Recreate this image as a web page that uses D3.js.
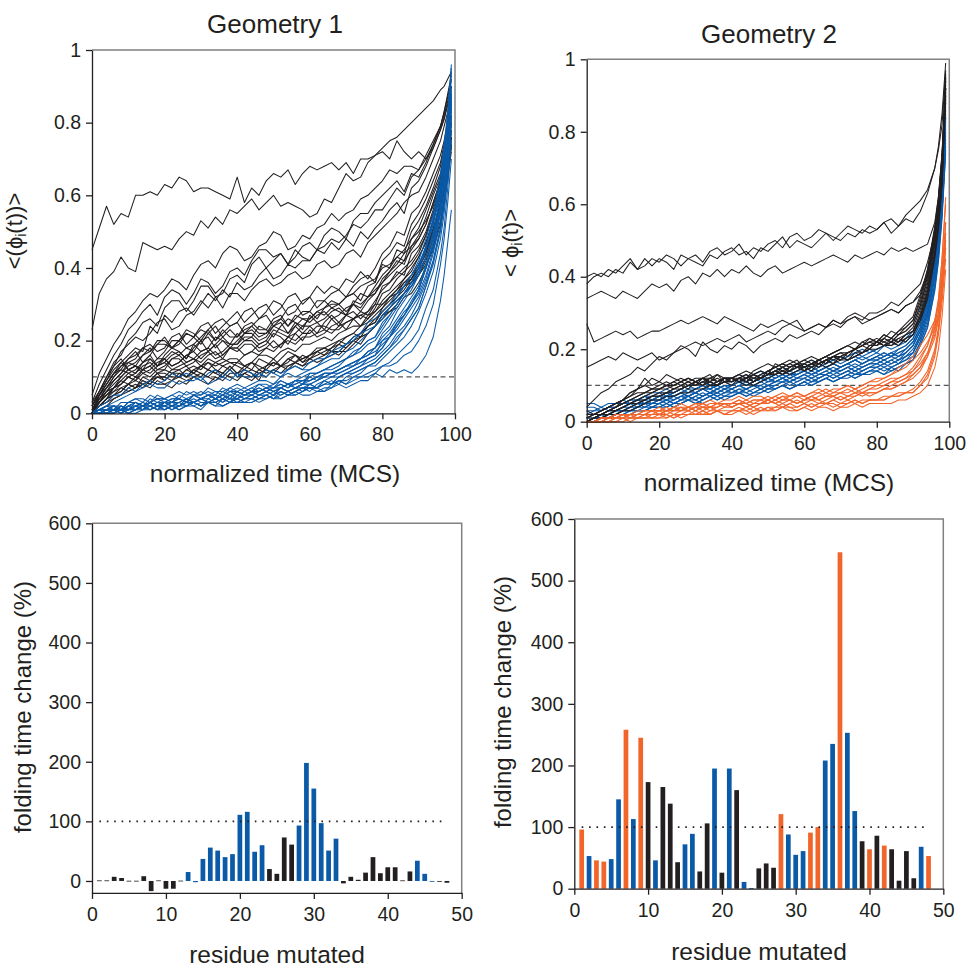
<!DOCTYPE html>
<html lang="en">
<head>
<meta charset="utf-8">
<title>Geometry 1 / Geometry 2</title>
<script src="https://cdn.jsdelivr.net/npm/d3@7"></script>
<style>
  body { margin: 0; background: #fff; }
  svg { display: block; }
  text { font-family: "Liberation Sans", Arial, Helvetica, sans-serif; fill: #231f20; }
  .axis path, .axis line { stroke: #231f20; stroke-width: 1.3; }
  .axis text { font-size: 19.5px; }
  .frame { stroke: #808080; stroke-width: 1.5; fill: none; }
</style>
</head>
<body>
<script>
// shared time grid (normalized time, MCS)
var times = [0,2,4,6,8,10,12,14,16,18,20,22,24,26,28,30,32,34,36,38,40,42,44,46,48,50,52,54,56,58,
             60,62,64,66,68,70,72,74,76,78,80,82,84,86,88,90,92,94,96,97,98,99];

// <phi_i(t)> x100, Geometry 1, black residues
var g1Black = [
  [45,51,57,52,55,54,60,60,61,60, 63,62,65,64,61,62,62,61,60,59, 65,58,62,60,64,66,65,67,63,66, 68,67,68,69,67,69,66,70,70,71, 73,75,76,78,80,82, 84,86,89,90,92,94],
  [23,33,37,39,43,40,39,47,46,45, 46,45,48,50,49,53,51,54,52,56, 55,57,59,56,58,60,57,58,57,56, 54,55,59,58,62,66,64,65,69,71, 72,70,75,72,70,72, 70,73,78,81,85,90],
  [5,11,15,19,22,26,28,31,33,32, 34,37,36,34,38,41,42,40,44,46, 45,42,43,46,47,50,49,45,46,49, 48,51,52,55,53,55,56,59,60,62, 64,67,66,68,68,67, 70,74,79,83,87,92],
  [3,8,12,16,19,23,25,28,30,27, 32,34,33,30,33,37,36,33,35,39, 40,38,42,45,45,43,44,41,43,46, 47,45,49,51,50,48,53,55,55,58, 60,62,64,61,66,65, 69,74,79,83,88,93],
  [2,6,10,14,16,20,22,25,26,24, 29,31,31,28,31,35,35,32,33,37, 38,36,41,43,40,42,44,41,45,43, 42,45,46,48,47,49,52,51,53,56, 56,59,62,60,65,67, 71,75,79,82,86,90],
  [0,5,8,11,14,16,18,17,24,22, 27,25,28,29,27,30,33,31,34,32, 36,34,35,38,40,37,38,41,40,42, 42,45,44,47,45,48,46,50,48,51, 53,56,58,55,62,64, 68,73,78,81,85,88],
  [2,6,9,13,17,19,21,20,22,25, 26,23,24,27,28,31,29,32,29,33, 33,31,34,36,37,35,36,38,39,37, 38,41,42,40,41,44,45,43,47,49, 51,53,55,58,60,61, 65,70,75,79,83,87],
  [0,4,7,10,13,14,15,18,19,17, 18,21,22,19,21,24,25,22,24,26, 28,25,27,29,30,27,29,32,33,30, 32,35,33,35,34,37,36,39,37,40, 44,46,50,49,55,57, 61,66,71,75,80,85],
  [1,5,8,11,12,15,17,14,16,19, 21,18,20,23,22,20,23,25,26,24, 25,28,29,26,28,31,30,27,28,31, 32,29,31,33,34,32,35,37,38,36, 42,44,47,46,52,55, 59,64,69,74,79,84],
  [0,3,6,9,11,13,14,16,18,15, 17,20,20,18,19,21,23,20,22,24, 25,22,24,26,27,24,26,29,30,27, 28,31,31,29,30,32,33,31,35,36, 41,40,45,44,50,53, 57,62,68,73,78,83],
  [3,6,10,13,15,12,13,16,17,20, 20,18,19,22,21,19,22,24,21,23, 21,24,25,23,23,26,27,24,26,28, 28,26,29,31,30,28,30,33,32,35, 38,40,43,42,48,51, 56,61,66,71,77,82],
  [0,3,5,7,9,11,12,14,15,13, 14,16,17,15,19,17,18,21,20,18, 20,22,23,21,22,24,25,22,24,26, 25,27,28,26,27,29,30,28,31,33, 37,39,42,41,46,49, 54,60,65,70,76,81],
  [2,5,7,9,11,14,13,12,15,13, 16,18,17,15,18,20,17,19,21,19, 22,20,21,24,23,21,24,26,25,23, 27,25,26,28,29,27,31,30,32,34, 36,38,40,42,45,48, 52,58,64,70,75,80],
  [0,2,4,7,10,12,13,11,12,14, 15,13,14,16,17,15,17,19,16,18, 18,20,20,18,19,22,21,19,22,24, 24,22,25,27,25,27,28,26,28,31, 34,36,39,38,44,46, 50,56,63,68,74,79],
  [1,4,6,7,8,10,11,13,14,12, 13,15,16,14,15,17,18,16,17,19, 19,21,21,19,20,23,22,21,24,22, 24,25,23,26,24,27,26,28,27,30, 35,36,38,40,42,45, 49,55,62,67,73,78],
  [0,5,9,12,14,12,11,14,16,13, 15,17,16,18,17,20,21,18,20,19, 19,22,22,20,21,24,23,22,25,24, 26,28,27,29,28,27,30,29,32,33, 36,39,41,44,46,48, 52,58,64,69,75,80],
  [0,3,5,6,8,10,9,12,13,11, 12,15,15,13,14,16,17,15,16,18, 18,16,17,19,20,18,19,21,22,20, 23,21,22,24,25,23,26,27,26,29, 33,34,37,39,41,44, 49,55,61,66,72,77],
  [1,4,7,10,12,11,10,12,13,15, 15,13,14,16,15,14,16,17,15,18, 17,19,19,17,18,20,18,21,20,22, 22,24,24,23,23,25,26,24,27,28, 31,33,35,37,40,43, 47,53,60,65,71,76],
  [0,2,4,6,7,8,9,8,9,11, 11,10,10,12,13,12,14,13,14,15, 15,13,14,16,16,15,17,18,17,19, 19,20,21,20,22,23,24,24,26,28, 30,32,34,36,38,41, 45,51,58,64,70,76],
  [0,3,5,7,9,8,7,10,9,11, 9,11,12,10,11,13,12,11,13,12, 14,13,12,15,14,13,15,17,16,15, 16,18,18,17,19,21,22,21,24,26, 28,30,32,34,37,40, 44,50,57,63,69,75],
  [0,2,3,5,6,8,7,9,8,10, 10,9,11,10,12,11,10,12,11,13, 11,12,14,13,12,14,13,15,16,14, 15,17,16,18,19,18,20,21,22,24, 27,29,31,33,36,39, 43,49,56,62,68,74],
  [0,3,6,7,8,10,9,11,10,12, 12,11,11,10,12,13,14,12,11,13, 11,13,14,12,13,15,13,14,16,14, 16,17,18,17,17,19,20,22,24,25, 28,30,32,35,37,41, 45,50,58,64,70,76],
  [1,2,4,5,6,8,10,9,8,10, 9,11,10,12,11,10,12,11,10,12, 10,11,12,11,10,12,11,13,14,13, 14,15,16,17,16,18,20,19,22,24, 27,28,30,33,35,38, 42,48,55,61,67,73],
  [0,2,4,5,7,6,7,8,7,9, 8,7,9,8,10,9,8,10,9,11, 11,10,9,11,12,11,13,12,14,13, 15,14,15,16,17,17,19,21,22,24, 26,28,29,32,33,36, 40,46,53,59,65,72],
  [0,1,2,4,5,6,7,8,9,10, 10,12,12,13,11,13,15,14,15,14, 14,16,17,16,18,17,19,20,19,21, 21,22,23,22,24,25,26,27,28,30, 30,32,33,35,36,38, 41,45,52,58,65,74],
  [0,4,6,8,10,12,13,12,11,13, 14,12,13,14,15,13,12,14,13,14, 13,12,11,9,13,14,13,15,14,16, 15,16,17,18,20,19,21,22,24,25, 29,31,33,36,37,40, 44,50,58,63,70,76],
  [0,2,3,4,5,7,8,7,9,8, 8,9,10,9,10,11,10,9,11,10, 9,11,10,12,11,12,13,13,14,15, 16,17,18,19,20,21,22,24,25,27, 29,32,34,37,39,43, 47,53,61,66,72,78],
  [2,5,8,11,13,15,16,18,17,19, 19,18,20,22,21,23,22,20,23,21, 21,23,24,22,22,25,26,24,27,26, 26,28,29,30,30,32,33,35,36,37, 40,41,43,45,48,50, 53,57,64,69,74,80]
];

// <phi_i(t)> x100, Geometry 1, blue residues
var g1Blue = [
  [0,0,1,1,0,1,2,1,3,2, 3,2,2,3,4,3,3,4,5,4, 4,5,6,5,5,6,5,6,7,6, 8,7,9,10,10,11,12,13,15,16, 20,21,25,27,31,34, 40,46,55,62,72,85],
  [0,1,1,2,1,2,3,2,3,2, 3,4,4,3,5,4,5,4,5,6, 6,5,6,6,7,6,7,8,7,8, 10,9,11,11,12,13,14,15,17,18, 22,24,28,31,34,38, 43,50,60,67,77,90],
  [0,0,0,1,1,0,1,2,1,2, 2,1,2,3,2,3,3,2,4,3, 3,4,5,4,5,4,6,5,6,7, 6,8,9,8,10,11,12,13,14,15, 17,19,22,24,27,31, 36,42,51,58,68,80],
  [0,1,2,2,1,3,3,2,4,3, 4,3,5,4,5,6,5,6,5,7, 6,7,6,8,7,8,9,8,9,9, 10,11,12,12,13,15,16,17,19,20, 23,26,29,32,35,39, 45,52,62,70,80,92],
  [0,0,0,1,1,1,2,1,1,2, 2,2,1,2,3,2,3,3,2,3, 4,3,3,4,5,4,4,5,6,5, 5,6,7,7,9,9,10,11,13,13, 15,17,19,21,24,28, 33,39,48,55,65,78],
  [0,1,1,0,2,1,1,2,3,2, 1,2,3,2,3,4,3,3,4,3, 5,4,4,5,6,5,6,5,6,7, 7,7,8,9,8,10,11,12,13,14, 16,18,21,23,26,29, 35,41,50,57,67,82],
  [0,0,1,2,2,1,2,3,2,3, 3,2,3,4,3,4,5,4,3,5, 4,5,6,5,6,5,7,6,7,8, 8,9,10,10,11,12,13,14,15,16, 18,21,24,27,30,34, 40,47,56,64,74,88],
  [0,1,2,1,3,3,4,4,3,5, 4,5,4,6,5,5,6,5,7,6, 7,6,7,8,8,7,9,8,9,10, 11,11,12,13,14,15,17,18,20,21, 25,27,30,33,36,40, 46,53,63,71,80,94],
  [0,0,0,0,1,0,1,1,2,1, 1,2,1,2,2,1,3,2,2,3, 3,3,4,3,4,5,4,5,5,6, 7,6,6,7,8,7,8,9,9,11, 10,12,11,12,11,13, 16,21,31,38,47,56],
  [0,1,0,0,1,1,1,2,1,2, 1,2,3,2,3,2,3,4,3,4, 3,4,5,4,4,5,6,5,6,7, 7,7,8,8,9,8,9,10,10,11, 13,13,14,16,17,20, 24,30,41,48,58,70],
  [0,2,3,5,5,7,6,8,9,8, 9,11,10,11,10,9,11,12,10,12, 10,12,11,10,12,11,10,12,13,12, 12,13,15,16,17,19,21,22,25,26, 28,30,33,35,38,41, 46,52,62,69,78,88],
  [0,1,2,3,4,5,6,7,8,7, 7,9,8,9,9,10,8,9,10,9, 11,10,10,11,10,12,11,12,13,12, 14,15,15,17,18,19,20,22,23,24, 27,29,31,33,35,38, 43,49,60,67,76,86],
  [0,0,1,1,0,1,2,2,3,2, 2,3,3,4,3,4,3,4,5,4, 6,5,6,7,6,7,7,8,7,8, 9,10,11,11,12,13,14,15,17,18, 21,23,26,29,32,35, 41,48,58,65,75,87],
  [0,1,1,1,2,1,3,2,3,4, 3,4,4,3,5,4,5,5,4,6, 5,6,7,6,7,7,8,7,9,8, 11,11,12,13,14,15,16,18,20,21, 24,27,30,33,36,40, 46,54,64,72,82,95],
  [0,0,0,1,1,2,1,2,2,1, 3,2,2,3,3,2,4,3,4,3, 5,4,4,5,6,5,7,6,7,7, 8,7,9,8,10,11,11,12,13,14, 16,18,20,23,26,29, 35,42,51,58,69,84],
  [0,0,1,1,2,1,2,3,2,3, 2,3,4,3,3,4,5,4,5,4, 6,5,5,6,7,6,7,8,8,9, 9,10,10,11,12,13,13,15,16,17, 19,21,24,27,30,33, 38,45,55,63,73,86],
  [0,0,0,0,1,0,0,1,2,1, 2,1,2,2,3,2,3,3,2,3, 4,3,3,4,5,4,5,6,5,6, 7,7,6,8,9,8,10,10,11,12, 13,14,16,18,20,23, 29,34,44,51,62,75],
  [0,1,2,2,1,3,4,3,5,4, 4,5,6,5,6,5,7,6,6,7, 8,7,8,9,9,8,10,11,10,11, 12,13,14,15,15,17,18,20,22,24, 26,29,32,35,38,42, 48,55,66,74,83,96],
  [0,0,1,1,0,2,2,2,3,2, 3,3,2,4,3,4,4,5,4,5, 4,6,5,6,7,6,7,6,7,8, 8,9,10,11,11,12,13,14,15,16, 18,21,23,26,29,32, 37,44,53,60,70,82],
  [0,1,1,2,1,2,3,2,3,4, 4,3,4,3,5,4,5,4,6,5, 6,5,6,7,6,7,8,7,8,9, 9,10,11,11,12,13,14,15,16,18, 20,22,25,28,30,34, 40,47,57,64,74,89]
];

// <phi_i(t)> x100, Geometry 2, black residues
var g2Black = [
  [40,41,40,42,41,43,45,42,45,43, 45,44,42,46,45,44,43,46,45,47, 48,46,47,45,48,47,49,51,48,50, 49,48,50,52,51,50,52,51,53,52, 53,55,52,54,56,55, 58,63,70,76,85,99],
  [38,40,41,40,42,41,44,42,43,45, 44,46,45,43,45,46,44,47,48,46, 47,49,46,48,47,49,50,48,51,52, 50,51,53,52,50,52,54,53,52,54, 53,55,56,54,57,59, 61,64,70,75,82,97],
  [34,35,36,35,34,36,35,34,36,38, 37,38,36,39,40,38,41,40,42,40, 42,41,43,41,40,42,43,41,42,43, 44,43,44,45,46,45,44,46,45,46, 47,46,48,47,48,47, 48,49,55,62,74,92],
  [27,22,23,24,25,24,25,23,24,25, 25,26,27,28,27,28,29,28,27,29, 28,27,26,25,27,26,27,28,27,28, 25,26,27,26,28,27,29,30,29,28, 29,30,31,30,32,33, 35,40,50,58,70,90],
  [15,16,17,18,17,19,18,17,18,19, 17,18,19,20,21,22,21,22,23,22, 23,24,22,23,24,25,24,26,27,26, 25,26,27,26,28,27,28,29,27,28, 29,30,31,30,32,33, 36,41,51,59,72,91],
  [4,6,8,9,11,12,13,15,14,16, 18,17,19,21,20,18,22,20,19,21, 20,22,21,19,21,22,23,22,24,23, 24,25,24,26,27,26,28,29,28,30, 30,31,33,32,34,36, 38,44,52,60,72,88],
  [0,1,2,3,3,4,5,5,6,7, 7,8,9,9,10,11,10,11,10,11, 11,12,11,10,11,12,13,14,13,14, 15,16,15,17,16,18,17,18,19,20, 22,21,22,21,23,24, 28,34,46,54,66,92],
  [1,2,2,3,4,5,6,7,8,8, 9,10,9,10,11,10,12,11,10,12, 12,11,12,13,12,14,15,14,15,16, 14,16,17,16,18,19,18,20,21,22, 23,22,21,23,24,26, 31,38,50,58,70,95],
  [0,1,1,2,3,4,5,6,6,7, 8,8,9,10,9,11,10,12,11,12, 11,12,13,11,12,13,14,15,16,15, 16,15,17,18,17,18,19,20,22,21, 21,23,22,24,25,27, 32,40,52,60,72,94],
  [2,2,3,4,5,6,7,8,8,9, 9,10,11,10,11,12,12,11,13,12, 12,11,10,11,12,13,14,13,15,16, 15,16,17,16,18,17,19,20,19,21, 22,21,23,22,24,25, 30,37,49,57,69,93],
  [0,0,1,2,2,3,4,5,6,7, 7,8,8,9,10,10,11,11,12,11, 12,12,11,13,12,13,14,13,14,15, 15,16,16,17,18,18,19,20,21,20, 22,21,22,23,22,24, 29,35,46,54,66,90],
  [1,2,3,4,5,6,8,9,10,9, 10,11,10,11,12,11,12,13,11,12, 12,13,12,14,15,16,15,16,17,16, 17,18,17,18,19,20,21,22,21,23, 22,23,25,24,26,28, 34,42,54,62,74,96],
  [0,1,2,3,4,6,7,9,10,12, 11,13,12,11,12,11,12,10,11,12, 12,11,12,11,13,14,13,15,14,16, 15,14,16,17,16,18,17,19,19,21, 21,23,22,24,25,27, 32,39,51,59,71,92],
  [0,0,1,1,2,3,3,4,5,6, 6,7,7,8,8,9,9,10,10,11, 11,12,11,12,12,13,13,14,14,15, 14,15,16,15,16,17,17,18,19,20, 20,21,21,22,23,24, 28,34,45,53,65,89],
  [3,2,3,4,5,6,8,9,12,10, 11,10,11,12,11,10,11,12,13,11, 10,12,12,13,14,13,16,15,16,17, 15,16,17,18,19,20,21,20,21,22, 22,24,23,25,26,28, 33,41,53,61,73,95],
  [0,1,2,2,3,4,5,6,7,8, 9,9,10,11,10,11,12,11,10,12, 12,13,14,13,12,14,15,16,15,16, 16,17,16,17,18,19,19,20,21,22, 21,22,23,22,24,25, 29,36,47,55,67,91],
  [1,1,2,3,4,5,6,7,8,9, 9,10,10,11,12,11,12,12,11,12, 11,12,13,12,13,14,15,16,15,16, 17,16,17,18,19,20,21,20,22,23, 22,24,23,25,27,29, 35,42,53,61,73,94]
];

// <phi_i(t)> x100, Geometry 2, blue residues
var g2Blue = [
  [0,1,1,2,3,3,4,5,4,5, 6,6,7,6,7,8,7,8,9,8, 9,10,9,10,11,10,11,12,11,12, 13,12,13,14,13,14,15,14,15,16, 16,17,18,17,19,21, 25,31,42,50,63,82],
  [0,1,2,1,2,3,3,4,5,4, 5,6,5,6,7,6,7,8,7,8, 8,9,8,9,10,9,10,11,10,11, 12,11,12,13,12,13,14,13,14,15, 15,16,17,16,18,20, 24,30,40,48,61,80],
  [5,5,4,5,5,6,5,6,7,6, 7,8,7,8,9,8,9,10,9,10, 10,11,10,11,12,11,12,13,12,13, 14,13,14,15,14,15,16,15,16,17, 17,18,19,18,20,22, 26,33,44,52,65,85],
  [0,0,1,1,2,2,3,3,4,4, 5,4,5,6,6,7,6,7,8,7, 8,8,9,8,9,10,9,10,11,10, 11,12,11,12,13,12,13,14,13,14, 15,14,15,16,17,18, 22,28,38,46,58,76],
  [1,2,2,3,3,4,5,4,5,6, 6,7,7,8,7,8,9,9,10,9, 10,11,10,11,12,11,12,13,12,13, 14,15,14,15,16,15,16,17,16,17, 18,19,18,20,21,23, 27,34,45,54,67,88],
  [0,1,1,1,2,2,3,3,3,4, 4,5,4,5,6,5,6,7,6,7, 7,8,7,8,9,8,9,10,9,10, 11,10,11,12,11,12,13,12,13,13, 14,13,15,14,16,17, 21,26,36,44,56,74],
  [2,3,3,4,5,5,6,6,7,8, 8,7,8,9,10,9,10,11,10,11, 12,11,12,13,12,13,14,13,14,15, 15,16,15,16,17,18,17,18,19,20, 19,21,22,21,23,25, 29,36,48,56,69,90],
  [0,1,1,2,3,3,3,4,5,5, 6,5,6,7,6,7,8,7,8,9, 8,9,9,10,9,10,11,11,12,11, 12,13,12,13,14,13,14,15,14,15, 16,15,16,17,18,19, 23,29,40,48,60,78],
  [4,4,3,4,4,5,5,6,5,6, 7,6,7,8,7,8,9,8,9,10, 9,10,11,10,11,12,11,12,13,12, 13,14,13,14,15,14,15,16,15,16, 17,16,17,18,19,21, 25,31,42,50,63,83],
  [0,0,0,1,1,2,2,3,3,4, 4,4,5,5,6,5,6,7,6,7, 7,8,8,7,8,9,9,10,9,10, 10,11,11,12,11,12,12,13,13,14, 14,15,14,15,16,17, 21,26,37,45,57,75],
  [0,1,2,2,3,3,4,5,5,6, 6,7,6,7,8,8,9,8,9,10, 10,11,11,12,11,12,13,12,13,14, 14,13,14,15,16,15,16,17,16,17, 18,17,18,19,20,22, 26,32,43,51,64,84],
  [0,1,1,2,2,3,4,4,5,5, 5,6,6,7,7,8,7,8,8,9, 9,10,9,10,10,11,11,12,11,12, 13,12,13,13,14,14,15,14,15,16, 16,17,16,17,18,19, 24,30,41,49,62,81],
  [1,1,2,2,3,4,5,5,6,6, 7,7,8,9,8,9,10,9,10,11, 11,12,11,12,13,12,13,14,13,14, 15,14,15,16,17,16,17,18,17,18, 19,18,19,20,21,23, 27,34,45,53,66,86],
  [0,0,1,1,2,2,2,3,3,4, 4,5,4,5,6,6,5,6,7,6, 7,8,7,8,8,9,9,10,9,10, 11,10,11,12,11,12,13,12,13,14, 14,13,14,15,16,17, 22,27,38,46,58,77],
  [0,1,2,3,3,4,5,6,6,7, 7,8,8,9,10,10,11,10,11,12, 12,13,12,13,14,13,14,15,14,15, 16,15,16,17,18,17,18,19,18,19, 20,21,20,21,22,24, 28,35,47,55,68,89],
  [0,1,1,1,2,3,3,4,4,5, 5,6,5,6,7,6,7,8,7,8, 9,8,9,10,9,10,10,11,11,12, 12,11,12,13,12,13,14,13,14,15, 15,16,15,16,17,19, 23,29,40,48,61,79],
  [3,3,4,3,4,5,5,6,7,6, 7,8,7,8,9,9,10,9,10,11, 10,11,12,11,12,13,12,13,14,13, 14,15,14,15,16,15,16,17,18,17, 18,19,18,19,20,22, 26,33,44,52,65,87],
  [0,1,2,2,3,4,4,5,6,5, 6,7,7,8,7,8,9,9,8,9, 10,11,10,11,12,12,11,12,13,13, 14,13,14,15,14,15,16,17,16,17, 17,18,19,18,19,21, 25,31,43,51,64,84],
  [2,2,3,4,4,5,6,6,7,7, 8,9,8,9,10,10,11,10,11,12, 12,11,12,13,14,13,14,15,14,15, 16,17,16,17,18,17,18,19,20,19, 20,21,22,21,23,25, 29,36,48,57,70,92]
];

// <phi_i(t)> x100, Geometry 2, orange residues
var g2Orange = [
  [0,0,0,1,1,1,2,1,2,2, 2,3,2,3,3,4,3,4,4,5, 4,5,5,4,5,6,5,6,6,5, 6,7,6,7,7,6,7,8,7,8, 8,9,9,10,11,12, 14,18,26,33,45,62],
  [0,0,1,1,1,2,1,2,2,3, 2,3,3,4,3,4,4,3,4,5, 4,5,4,5,5,6,5,4,5,6, 5,6,6,5,6,7,6,7,8,7, 8,9,10,11,12,14, 17,21,28,34,45,60],
  [0,0,0,0,1,1,1,1,2,1, 2,2,1,2,2,3,2,3,3,2, 3,3,4,3,4,3,4,4,5,4, 5,4,5,5,4,5,6,5,6,6, 6,7,7,8,8,9, 11,14,20,26,37,55],
  [0,0,1,1,2,2,2,3,3,3, 4,3,4,5,4,5,5,6,5,6, 6,7,6,7,7,6,7,8,7,8, 7,8,9,8,9,9,10,9,10,11, 11,12,13,14,15,17, 19,22,26,30,38,50],
  [0,0,1,1,1,2,2,2,3,3, 3,4,3,4,4,5,4,5,5,4, 5,6,5,6,6,5,6,7,6,7, 7,6,7,8,7,8,8,9,8,9, 10,10,11,12,13,15, 18,21,27,32,40,52],
  [0,0,0,0,0,1,0,1,1,1, 1,2,1,2,2,2,3,2,3,2, 3,3,2,3,3,4,3,4,4,3, 4,5,4,5,5,4,5,6,5,6, 6,6,7,7,8,8, 10,13,19,25,35,48],
  [0,0,0,1,1,1,2,2,2,3, 3,3,4,3,4,4,5,4,5,5, 5,6,5,6,6,7,6,7,7,8, 7,8,8,9,8,9,10,9,10,11, 12,12,13,15,16,18, 21,24,28,32,42,55],
  [0,0,1,1,1,1,2,2,2,3, 2,3,3,3,4,3,4,4,3,4, 4,5,4,5,5,5,6,5,6,5, 6,6,5,6,7,6,7,7,8,8, 8,9,9,10,11,13, 15,19,25,30,39,50],
  [0,0,0,0,1,1,1,1,1,2, 2,1,2,2,3,2,3,2,3,3, 3,4,3,4,3,4,4,5,4,4, 5,4,5,5,6,5,5,6,5,6, 6,6,7,7,8,8, 10,12,18,24,33,45],
  [0,0,1,1,2,2,2,2,3,3, 3,3,4,4,3,4,5,4,5,5, 5,5,6,5,6,6,7,6,7,7, 6,7,8,7,8,8,9,8,9,10, 10,11,12,12,13,14, 16,19,24,29,38,52],
  [0,0,0,0,0,0,1,1,1,1, 1,1,2,1,2,2,2,2,3,2, 2,3,3,2,3,3,3,4,3,3, 4,3,4,4,3,4,4,5,4,5, 5,5,5,6,6,7, 8,10,15,20,29,42],
  [0,0,1,1,1,2,1,2,2,2, 3,2,3,3,4,3,4,4,4,5, 4,5,5,4,5,6,5,6,6,5, 6,7,6,7,7,8,7,8,8,9, 9,10,11,11,12,13, 15,18,23,28,36,48]
];

// folding time change (%) per residue mutated
var residues = d3.range(1, 49);
var g1Change = [1,1,7,5,0.4,0.4,8,-17,1,-13,-13,0.6,15,-2,37,56,51,40,45,111,116,49,60,20,
                12,73,61,93,198,155,97,51,71,-4,7,2,14,40,13,23,23,1,16,34,12,-1,-1,-3];
var g1Group  = ["k","k","k","k","k","k","k","k","k","k","k","k","b","b","b","b","b","b","b","b","b","b","b","k",
                "k","k","k","b","b","b","b","b","b","k","k","k","k","k","k","k","k","k","k","b","b","b","k","k"];
var g2Change = [96,53,46,44,48,145,258,113,245,173,46,165,138,43,72,89,28,106,195,26,195,160,11,1,
                33,41,34,121,88,55,61,91,100,208,235,546,253,126,77,64,86,70,64,13,61,17,68,53];
var g2Group  = ["o","b","o","o","b","b","o","b","o","k","b","k","k","k","b","b","k","k","b","k","b","k","b","b",
                "k","k","k","o","b","b","b","o","o","b","b","o","b","b","k","o","k","o","k","k","k","k","b","o"];

var xTicksT = [0, 20, 40, 60, 80, 100];
var yTicksPhi = [0, 0.2, 0.4, 0.6, 0.8, 1];
var xTicksRes = [0, 10, 20, 30, 40, 50];
var yTicksChange = [0, 100, 200, 300, 400, 500, 600];

var colors = { k: "#231f20", b: "#0a5aa8", o: "#f2652a" };

var W = 969, H = 967;
var svg = d3.select("body").append("svg").attr("width", W).attr("height", H);

function frame(g, x, y) {
  var x0 = x.range()[0], x1 = x.range()[1], y0 = y.range()[0], y1 = y.range()[1];
  g.append("path").attr("class", "frame")
    .attr("d", "M" + x0 + "," + y1 + "H" + x1 + "V" + y0);
}

function axes(g, x, y, xt, yt, yfmt, xAxisY) {
  g.append("g").attr("class", "axis")
    .attr("transform", "translate(0," + xAxisY + ")")
    .call(d3.axisBottom(x).tickValues(xt).tickSize(6).tickSizeOuter(0).tickPadding(8).tickFormat(d3.format("d")));
  g.append("g").attr("class", "axis")
    .attr("transform", "translate(" + x.range()[0] + ",0)")
    .call(d3.axisLeft(y).tickValues(yt).tickSize(6).tickSizeOuter(0).tickPadding(5).tickFormat(yfmt));
}

function phiFmt(d) { return d === 0 ? "0" : d === 1 ? "1" : d3.format(".1f")(d); }

function linePanel(opt) {
  var x = d3.scaleLinear().domain([0, 100]).range(opt.xr);
  var y = d3.scaleLinear().domain([0, 1]).range(opt.yr);
  var g = svg.append("g");

  frame(g, x, y);

  // threshold line
  g.append("line")
    .attr("x1", x(0)).attr("x2", x(100)).attr("y1", y(0.1)).attr("y2", y(0.1))
    .attr("stroke", "#555").attr("stroke-width", 1.3).attr("stroke-dasharray", "5,3.5");

  var line = d3.line()
    .x(function(d, i) { return x(times[i]); })
    .y(function(d) { return y(d / 100); });

  opt.groups.forEach(function(gr) {
    g.append("g").selectAll("path")
      .data(gr.data)
      .enter().append("path")
      .attr("d", line)
      .attr("fill", "none")
      .attr("stroke", gr.color)
      .attr("stroke-width", 1.05)
      .attr("stroke-linejoin", "round");
  });

  axes(g, x, y, xTicksT, yTicksPhi, phiFmt, y(0));

  g.append("text").attr("x", opt.titleX).attr("y", opt.titleY)
    .attr("text-anchor", "middle").style("font-size", "26px").text(opt.title);
  g.append("text").attr("x", opt.xlabX).attr("y", opt.xlabY)
    .attr("text-anchor", "middle").style("font-size", "24.5px").text("normalized time (MCS)");

  var yl = g.append("text")
    .attr("transform", "translate(" + opt.ylabX + "," + opt.ylabY + ") rotate(-90)")
    .attr("text-anchor", "middle").style("font-size", "22px");
  yl.append("tspan").text(opt.ylabPre);
  yl.append("tspan").attr("baseline-shift", "-28%").style("font-size", "14px").text("i");
  yl.append("tspan").text(opt.ylabPost);
}

function barPanel(opt) {
  var x = d3.scaleLinear().domain([0, 50]).range(opt.xr);
  var y = d3.scaleLinear().domain(opt.ydom).range(opt.yr);
  var g = svg.append("g");

  frame(g, x, y);

  var bw = x(0.64) - x(0);
  g.append("g").selectAll("rect")
    .data(opt.values)
    .enter().append("rect")
    .attr("x", function(d, i) { return x(residues[i]) - bw / 2; })
    .attr("y", function(d) { return y(Math.max(0, d)); })
    .attr("width", bw)
    .attr("height", function(d) { return Math.max(0.8, Math.abs(y(d) - y(0))); })
    .attr("fill", function(d, i) { return colors[opt.groups[i]]; });

  // 100% reference line
  g.append("line")
    .attr("x1", x(1)).attr("x2", x(47.6)).attr("y1", y(100)).attr("y2", y(100))
    .attr("stroke", "#231f20").attr("stroke-width", 1.6)
    .attr("stroke-dasharray", "1.6,5.8");

  axes(g, x, y, xTicksRes, yTicksChange, d3.format("d"), y.range()[0]);

  g.append("text").attr("x", opt.xlabX).attr("y", opt.xlabY)
    .attr("text-anchor", "middle").style("font-size", "24.5px").text("residue mutated");
  g.append("text")
    .attr("transform", "translate(" + opt.ylabX + "," + opt.ylabY + ") rotate(-90)")
    .attr("text-anchor", "middle").style("font-size", "24px").text("folding time change (%)");
}

linePanel({
  xr: [92, 455], yr: [413.3, 50],
  groups: [{ data: g1Black, color: colors.k }, { data: g1Blue, color: colors.b }],
  title: "Geometry 1", titleX: 275, titleY: 33,
  xlabX: 275, xlabY: 482,
  ylabX: 22, ylabY: 231, ylabPre: "<(\u03d5", ylabPost: "(t))>"
});

linePanel({
  xr: [586.7, 949.3], yr: [421.7, 59.3],
  groups: [{ data: g2Blue, color: colors.b }, { data: g2Black, color: colors.k }, { data: g2Orange, color: colors.o }],
  title: "Geometry 2", titleX: 769, titleY: 43,
  xlabX: 769, xlabY: 491,
  ylabX: 518, ylabY: 243, ylabPre: "< \u03d5", ylabPost: "(t)>"
});

barPanel({
  xr: [92, 461.7], ydom: [-20, 600], yr: [892.9, 523.3],
  values: g1Change, groups: g1Group,
  xlabX: 277, xlabY: 963,
  ylabX: 31, ylabY: 707
});

barPanel({
  xr: [574.3, 943.3], ydom: [0, 600], yr: [888.7, 519],
  values: g2Change, groups: g2Group,
  xlabX: 759, xlabY: 960,
  ylabX: 511, ylabY: 702
});
</script>
</body>
</html>
